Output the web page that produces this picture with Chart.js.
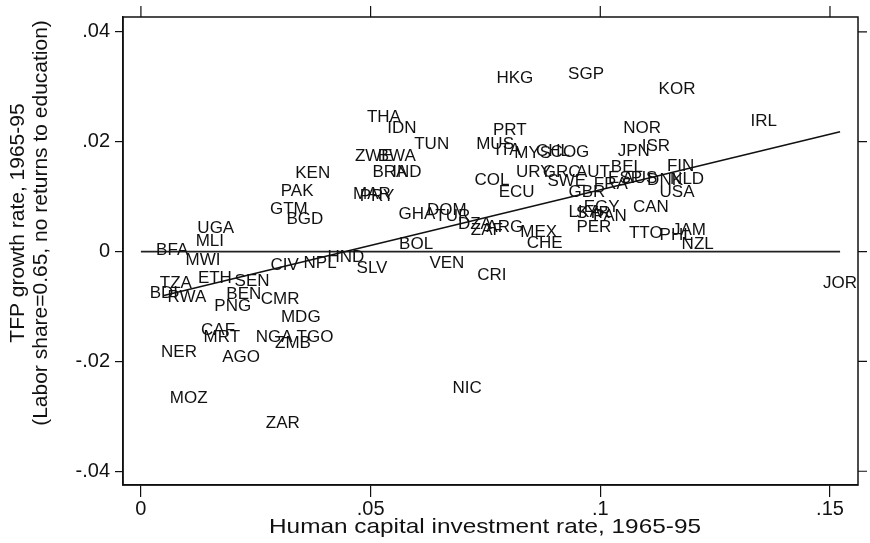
<!DOCTYPE html>
<html>
<head>
<meta charset="utf-8">
<script src="https://cdn.jsdelivr.net/npm/chart.js@4.4.1/dist/chart.umd.min.js"></script>
<style>
  html, body { margin: 0; padding: 0; background: #fff; }
  #wrap { width: 870px; height: 543px; }
</style>
</head>
<body>
<div id="wrap"><canvas id="chart" width="870" height="543"></canvas></div>
<script>
// ── data ─────────────────────────────────────────────────────────────────────
const countries = [
  'BFA','UGA','MLI','MWI','TZA','BDI','RWA','ETH','SEN','BEN','CMR','PNG','MDG','CIV','NPL','HND',
  'GTM','BGD','CAF','MRT','NGA','TGO','ZMB','NER','AGO','MOZ','ZAR','THA','IDN','TUN','ZWE','BWA',
  'KEN','BRA','IND','PAK','MAR','PRY','GHA','DOM','TUR','DZA','ZAF','ARG','MEX','CHE','BOL','ECU',
  'COL','SLV','VEN','CRI','NIC','HKG','SGP','KOR','PRT','MUS','ITA','MYS','CHL','COG','JPN','ISR',
  'NOR','URY','GRC','AUT','BEL','SWE','FRA','GBR','ESP','AUS','DNK','NLD','FIN','USA','CAN','IRL',
  'JOR','JAM','PHL','TTO','NZL','PER','PAN','EGY','LKA','SYR'
];
const capInv = [
  0.0068, 0.0163, 0.0150, 0.0135, 0.0076, 0.0050, 0.0100, 0.0161, 0.0242, 0.0224, 0.0303, 0.0200, 0.0348, 0.0313, 0.0390, 0.0446,
  0.0322, 0.0357, 0.0168, 0.0176, 0.0290, 0.0379, 0.0331, 0.0083, 0.0218, 0.0104, 0.0309, 0.0529, 0.0568, 0.0633, 0.0507, 0.0557,
  0.0374, 0.0542, 0.0579, 0.0340, 0.0503, 0.0514, 0.0601, 0.0666, 0.0679, 0.0727, 0.0753, 0.0792, 0.0866, 0.0879, 0.0599, 0.0818,
  0.0764, 0.0503, 0.0666, 0.0764, 0.0710, 0.0814, 0.0969, 0.1167, 0.0803, 0.0771, 0.0799, 0.0853, 0.0897, 0.0934, 0.1073, 0.1121,
  0.1091, 0.0855, 0.0916, 0.0984, 0.1058, 0.0927, 0.1023, 0.0971, 0.1054, 0.1086, 0.1141, 0.1189, 0.1175, 0.1167, 0.1110, 0.1356,
  0.1522, 0.1193, 0.1165, 0.1099, 0.1212, 0.0986, 0.1021, 0.1003, 0.0966, 0.0985
];
const tfpGrowth = [
  0.0002, 0.0042, 0.0018, -0.0016, -0.0058, -0.0076, -0.0084, -0.0049, -0.0055, -0.0078, -0.0087, -0.0100, -0.0120, -0.0025, -0.0022, -0.0011,
  0.0076, 0.0058, -0.0144, -0.0156, -0.0156, -0.0156, -0.0167, -0.0184, -0.0193, -0.0267, -0.0313, 0.0244, 0.0225, 0.0196, 0.0173, 0.0173,
  0.0142, 0.0144, 0.0144, 0.0109, 0.0105, 0.0100, 0.0067, 0.0075, 0.0064, 0.0049, 0.0038, 0.0044, 0.0035, 0.0015, 0.0013, 0.0107,
  0.0129, -0.0031, -0.0022, -0.0044, -0.0249, 0.0316, 0.0322, 0.0296, 0.0220, 0.0196, 0.0184, 0.0178, 0.0182, 0.0180, 0.0182, 0.0191,
  0.0225, 0.0144, 0.0144, 0.0144, 0.0153, 0.0127, 0.0122, 0.0107, 0.0133, 0.0133, 0.0129, 0.0131, 0.0155, 0.0107, 0.0080, 0.0238,
  -0.0058, 0.0038, 0.0029, 0.0033, 0.0013, 0.0044, 0.0064, 0.0080, 0.0071, 0.0069
];

// fitted regression line and zero reference line (end points)
const fitX  = [0.0050, 0.1522];
const fitY  = [-0.0080, 0.0218];
const zeroX = [0, 0.1522];
const zeroY = [0, 0];

const xTicks = [0, 0.05, 0.1, 0.15];
const yTicks = [-0.04, -0.02, 0, 0.02, 0.04];

const X_TITLE = 'Human capital investment rate, 1965-95';
const Y_TITLE = ['TFP growth rate, 1965-95', '(Labor share=0.65, no returns to education)'];

// ── styling ──────────────────────────────────────────────────────────────────
const FONT = "'Liberation Sans', Arial, Helvetica, sans-serif";
const INK  = '#111';

const fmt = (v) => (v === 0 ? '0' : String(+v.toFixed(2)).replace('0.', '.'));
const toPts = (xs, ys) => xs.map((x, i) => ({ x, y: ys[i] }));

// Country codes drawn centred on each point (Stata mlabel, no marker)
const codeLabels = {
  id: 'codeLabels',
  afterDatasetsDraw(chart) {
    const { ctx } = chart;
    const meta = chart.getDatasetMeta(2);
    ctx.save();
    ctx.font = `17px ${FONT}`;
    ctx.fillStyle = INK;
    ctx.textAlign = 'center';
    ctx.textBaseline = 'middle';
    meta.data.forEach((pt, i) => ctx.fillText(countries[i], pt.x, pt.y));
    ctx.restore();
  },
};

// Frame, mirrored ticks on top / right, axis titles
const frame = {
  id: 'frame',
  afterDraw(chart) {
    const { ctx, chartArea: a, scales } = chart;
    ctx.save();
    ctx.strokeStyle = INK;
    ctx.lineWidth = 1.5;
    ctx.strokeRect(a.left, a.top, a.right - a.left, a.bottom - a.top);

    ctx.lineWidth = 1.2;
    ctx.beginPath();
    xTicks.forEach(v => {
      const px = scales.x.getPixelForValue(v);
      ctx.moveTo(px, a.top - 11);
      ctx.lineTo(px, a.top);
    });
    yTicks.forEach(v => {
      const py = scales.y.getPixelForValue(v);
      ctx.moveTo(a.right, py);
      ctx.lineTo(a.right + 9, py);
    });
    ctx.stroke();

    ctx.fillStyle = INK;
    ctx.textAlign = 'center';
    ctx.textBaseline = 'middle';

    // x title: the original face is wider than Liberation Sans
    ctx.save();
    ctx.font = `21px ${FONT}`;
    ctx.translate(485, 527);
    ctx.scale(1.16, 1);
    ctx.fillText(X_TITLE, 0, 0);
    ctx.restore();

    ctx.font = `21px ${FONT}`;
    ctx.translate(0, 223);
    ctx.rotate(-Math.PI / 2);
    ctx.fillText(Y_TITLE[0], 0, 18);
    ctx.fillText(Y_TITLE[1], 0, 41);
    ctx.restore();
  },
};

const tickFont = { family: FONT, size: 20 };

new Chart(document.getElementById('chart'), {
  type: 'scatter',
  data: {
    datasets: [
      {
        label: 'fit',
        data: toPts(fitX, fitY),
        showLine: true,
        borderColor: INK,
        borderWidth: 1.6,
        pointRadius: 0,
      },
      {
        label: 'zero',
        data: toPts(zeroX, zeroY),
        showLine: true,
        borderColor: '#222',
        borderWidth: 1.8,
        pointRadius: 0,
      },
      {
        label: 'countries',
        data: toPts(capInv, tfpGrowth),
        pointRadius: 0,
        pointHoverRadius: 0,
      },
    ],
  },
  options: {
    responsive: false,
    animation: false,
    events: [],
    layout: { padding: { left: 0, top: 15, right: 12, bottom: 0 } },
    plugins: { legend: { display: false }, tooltip: { enabled: false } },
    scales: {
      x: {
        type: 'linear',
        min: -0.0039,
        max: 0.1561,
        afterBuildTicks: (s) => { s.ticks = xTicks.map(value => ({ value })); },
        afterFit: (s) => { s.height = 58; },
        grid: { drawOnChartArea: false, drawTicks: true, tickLength: 12, color: INK, lineWidth: 1.2 },
        border: { display: true, color: INK, width: 1.5 },
        ticks: { color: INK, font: tickFont, padding: 0, maxRotation: 0, callback: fmt },
      },
      y: {
        type: 'linear',
        min: -0.0425,
        max: 0.0427,
        afterBuildTicks: (s) => { s.ticks = yTicks.map(value => ({ value })); },
        afterFit: (s) => { s.width = 123; },
        grid: { drawOnChartArea: false, drawTicks: true, tickLength: 8, color: INK, lineWidth: 1.2 },
        border: { display: true, color: INK, width: 1.5 },
        ticks: { color: INK, font: tickFont, padding: 5, callback: fmt },
      },
    },
  },
  plugins: [codeLabels, frame],
});
</script>
</body>
</html>
